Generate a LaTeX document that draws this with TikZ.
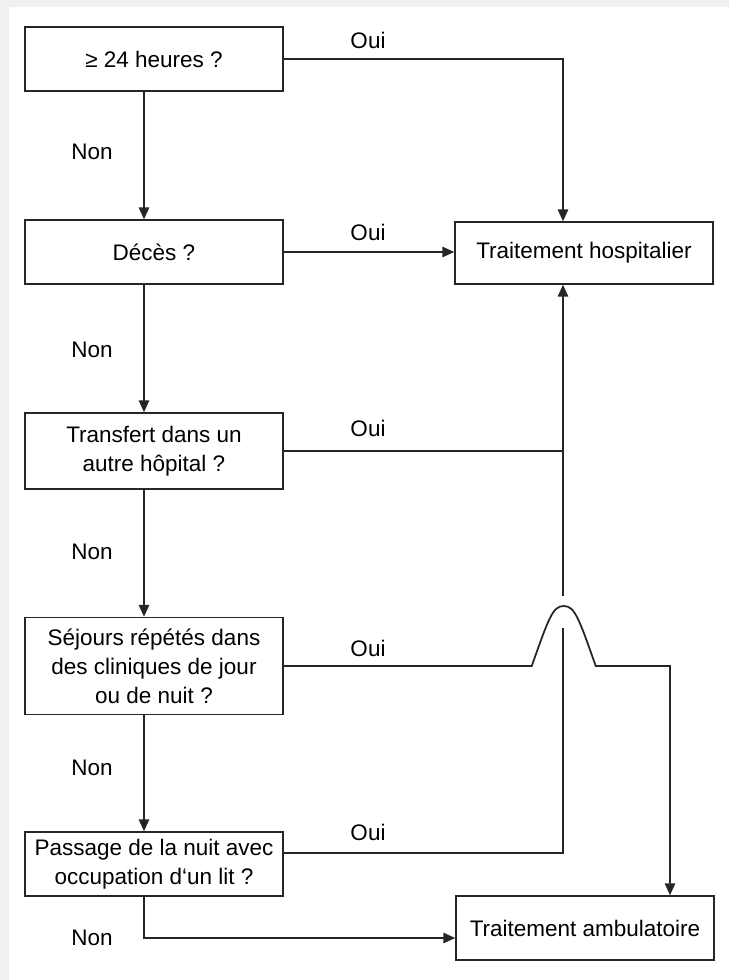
\documentclass[tikz,border=0pt]{standalone}
\usepackage{fontspec}
\setmainfont{Liberation Sans}
\usetikzlibrary{arrows.meta}
\tikzset{%
  question/.style = {shape=rectangle, draw=black!85, line width=1pt,%
                     align=center, inner sep=0pt,%
                     minimum width=6.45cm, minimum height=1.6cm},%
  result/.style   = {question, minimum height=1.55cm},%
  flow/.style     = {line width=1.25pt, draw=black!85},%
  arr/.style      = {flow, -{Triangle[length=3mm,width=2.6mm]}}%
}

\begin{document}
\begin{tikzpicture}[x=0.025cm,y=-0.025cm,every node/.style={font=\fontsize{16}{20.6}\selectfont}]
	\useasboundingbox (0,0) rectangle (729,980);
	\fill[black!6] (0,0) rectangle (729,7);
	\fill[black!6] (0,0) rectangle (9,980);

	\node[question] (q1) at (154,59) {≥ 24 heures ?};
	\node[question] (q2) at (154,252) {Décès ?};
	\node[question, minimum height=1.9cm] (q3) at (154,451) {Transfert dans un\\autre hôpital ?};
	\node[question, minimum height=2.425cm] (q4) at (154,666) {Séjours répétés dans\\des cliniques de jour\\ou de nuit ?};
	\node[question] (q5) at (154,864) {Passage de la nuit avec\\occupation d‘un lit ?};
	\node[result] (hosp) at (584,253) {Traitement hospitalier};
	\node[result, minimum height=1.6cm] (amb) at (585,928) {Traitement ambulatoire};

	\coordinate (spine) at (144,0);
	\coordinate (riser) at (563,0);
	\coordinate (drop) at (670,0);
	\coordinate (hop1) at (563,596);
	\coordinate (hop2) at (563,628);
	\coordinate (out5) at (283,853);
	\coordinate (non5) at (144,938);

	\foreach \a/\b in {q1/q2,q2/q3,q3/q4,q4/q5}
		\draw[arr] (\a.south -| spine) -- (\b.north -| spine);

	\draw[arr] (q1.east) -| (riser |- hosp.north);
	\draw[arr] (q2.east) -- (q2.east -| hosp.west);
	\draw[flow] (q3.east) -- (q3.east -| riser);
	\draw[arr] (hop1) -- (riser |- hosp.south);
	\draw[arr] (q4.east) -- ++(248,0)
		.. controls +(17,-48) and +(-11,0) .. ++(32,-60)
		.. controls +(11,0) and +(-17,-48) .. ++(32,60)
		-| (drop |- amb.north);
	\draw[flow] (out5) -- (out5 -| riser) -- (hop2);
	\draw[arr] (q5.south -| spine) -- (non5) -- (non5 -| amb.west);

	\foreach \y [count=\i] in {40,232,428,648,832}
		\node (oui\i) at (368,\y) {Oui};
	\foreach \y [count=\i] in {152,350,552,768,938}
		\node (non\i) at (92,\y) {Non};
\end{tikzpicture}
\end{document}
